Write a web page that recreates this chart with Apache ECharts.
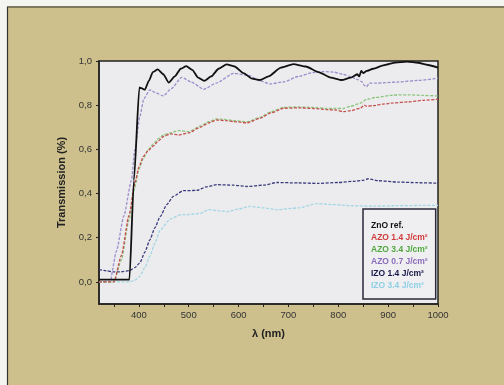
<!DOCTYPE html>
<html><head><meta charset="utf-8">
<script src="https://cdn.jsdelivr.net/npm/echarts@6/dist/echarts.min.js"></script>
<style>html,body{margin:0;padding:0;background:#fff}#c{width:504px;height:385px}</style>
</head><body><div id="c"></div><script>
// Series names (legend)
const seriesNames = ['ZnO ref.', 'AZO 1.4 J/cm²', 'AZO 3.4 J/cm²', 'AZO 0.7 J/cm²', 'IZO 1.4 J/cm²', 'IZO 3.4 J/cm²'];

// Tick labels
const xTicks = [400, 500, 600, 700, 800, 900, 1000];
const xMinorTicks = [350, 400, 450, 500, 550, 600, 650, 700, 750, 800, 850, 900, 950, 1000];
const yTicks = [0, 0.2, 0.4, 0.6, 0.8, 1.0];

// ZnO ref.
const znoX = [320, 350, 381, 390, 401, 405, 412, 420, 428, 438, 449, 460, 472, 484, 495, 507, 519, 531, 545, 560, 576, 592, 610, 627, 643, 660, 685, 710, 735, 760, 785, 807, 825, 838, 842, 846, 850, 857, 870, 890, 915, 938, 960, 980, 1000];
const znoY = [0.01, 0.01, 0.01, 0.46, 0.88, 0.877, 0.87, 0.91, 0.95, 0.962, 0.94, 0.902, 0.93, 0.965, 0.977, 0.96, 0.925, 0.91, 0.93, 0.965, 0.985, 0.975, 0.945, 0.92, 0.914, 0.93, 0.97, 0.986, 0.975, 0.95, 0.925, 0.914, 0.925, 0.94, 0.93, 0.955, 0.945, 0.955, 0.965, 0.98, 0.993, 0.997, 0.992, 0.982, 0.97];

// AZO 1.4 J/cm²
const azo14X = [320, 350, 365, 380, 392, 400, 409, 419, 429, 440, 449, 463, 480, 500, 523, 540, 556, 575, 590, 617, 643, 665, 690, 720, 750, 777, 795, 810, 825, 844, 852, 857, 870, 890, 911, 940, 970, 1000];
const azo14Y = [0.0, 0.0, 0.12, 0.3, 0.447, 0.52, 0.568, 0.595, 0.616, 0.64, 0.658, 0.67, 0.665, 0.675, 0.70, 0.72, 0.733, 0.73, 0.726, 0.72, 0.741, 0.765, 0.786, 0.788, 0.785, 0.78, 0.778, 0.771, 0.775, 0.786, 0.8, 0.795, 0.798, 0.805, 0.81, 0.815, 0.822, 0.827];

// AZO 3.4 J/cm²
const azo34X = [320, 350, 365, 380, 392, 400, 409, 419, 429, 440, 449, 463, 480, 500, 523, 540, 556, 575, 590, 617, 643, 665, 690, 720, 750, 777, 795, 810, 825, 844, 857, 875, 911, 940, 970, 1000];
const azo34Y = [0.0, 0.0, 0.1, 0.28, 0.43, 0.51, 0.56, 0.6, 0.625, 0.65, 0.665, 0.675, 0.685, 0.68, 0.705, 0.725, 0.738, 0.735, 0.73, 0.725, 0.745, 0.77, 0.79, 0.792, 0.79, 0.785, 0.785, 0.785, 0.795, 0.809, 0.827, 0.835, 0.846, 0.847, 0.844, 0.842];

// AZO 0.7 J/cm²
const azo07X = [320, 342, 355, 370, 385, 392, 402, 410, 422, 435, 449, 465, 486, 505, 530, 555, 590, 620, 643, 663, 690, 720, 750, 770, 790, 810, 823, 840, 848, 852, 857, 862, 877, 920, 960, 1000];
const azo07Y = [0.0, 0.0, 0.14, 0.3, 0.46, 0.6, 0.75, 0.83, 0.869, 0.855, 0.842, 0.875, 0.926, 0.905, 0.872, 0.9, 0.944, 0.935, 0.91, 0.896, 0.905, 0.93, 0.948, 0.952, 0.95, 0.94, 0.93, 0.915, 0.905, 0.89, 0.884, 0.9, 0.9, 0.905, 0.912, 0.922];

// IZO 1.4 J/cm²
const izo14X = [320, 335, 349, 365, 382, 392, 402, 412, 422, 432, 443, 456, 469, 489, 516, 535, 556, 590, 617, 650, 677, 720, 760, 800, 830, 850, 860, 880, 920, 960, 1000];
const izo14Y = [0.056, 0.05, 0.045, 0.046, 0.052, 0.065, 0.086, 0.135, 0.19, 0.245, 0.297, 0.35, 0.387, 0.413, 0.414, 0.43, 0.44, 0.438, 0.432, 0.438, 0.45, 0.448, 0.446, 0.45, 0.455, 0.46, 0.467, 0.458, 0.452, 0.449, 0.447];

// IZO 3.4 J/cm²
const izo34X = [320, 350, 382, 392, 402, 412, 422, 432, 443, 463, 483, 500, 523, 540, 560, 577, 600, 623, 650, 677, 720, 757, 790, 824, 870, 920, 960, 1000];
const izo34Y = [0.0, 0.0, 0.0, 0.008, 0.026, 0.065, 0.116, 0.175, 0.236, 0.285, 0.304, 0.305, 0.31, 0.327, 0.322, 0.318, 0.33, 0.342, 0.335, 0.327, 0.335, 0.354, 0.35, 0.345, 0.343, 0.345, 0.346, 0.346];

const lineColors = ['#111111', '#c4504c', '#8cc47c', '#9d8ccc', '#3a3a7c', '#a2d6e4'];
const legendColors = ['#111111', '#d23a3a', '#4fa83e', '#8a6cbc', '#16164a', '#8ecfe6'];
const xs = [znoX, azo14X, azo34X, azo07X, izo14X, izo34X];
const ys = [znoY, azo14Y, azo34Y, azo07Y, izo14Y, izo34Y];

const FONT = 'Liberation Sans, Arial, sans-serif';
const fmt = v => (Math.round(v * 10) / 10).toFixed(1).replace('.', ',');

const series = seriesNames.map((name, i) => ({
  name, type: 'line', showSymbol: false, symbol: 'none',
  smooth: 0.2, smoothMonotone: 'x',
  z: i === 0 ? 10 : 5 - i * 0.1,
  data: xs[i].map((x, k) => [x, ys[i][k]]),
  lineStyle: i === 0 ? { color: lineColors[i], width: 1.8 } : { color: lineColors[i], width: 1.3, type: [3, 1.5] },
  itemStyle: { color: lineColors[i] }
}));

const chart = echarts.init(document.getElementById('c'), null, { renderer: 'canvas' });
chart.setOption({
  animation: false,
  backgroundColor: '#cdc08d',
  textStyle: { fontFamily: FONT },
  graphic: [
    { type: 'rect', shape: { x: 0, y: 0, width: 504, height: 6 }, style: { fill: '#f4f4f0' }, silent: true },
    { type: 'rect', shape: { x: 0, y: 0, width: 7, height: 385 }, style: { fill: '#f4f4f0' }, silent: true },
    { type: 'line', shape: { x1: 7, y1: 7, x2: 504, y2: 7 }, style: { stroke: '#333', lineWidth: 1.2 }, silent: true },
    { type: 'line', shape: { x1: 7.5, y1: 7, x2: 7.5, y2: 385 }, style: { stroke: '#333', lineWidth: 1.2 }, silent: true }
  ],
  grid: { left: 99, right: 66, top: 61, bottom: 81, show: true, backgroundColor: '#ececee', borderColor: '#222', borderWidth: 1.5 },
  legend: {
    orient: 'vertical', left: 363, top: 209,
    data: seriesNames.map((n, i) => ({ name: n, textStyle: { color: legendColors[i] } })),
    itemWidth: 0, itemHeight: 0, itemGap: 2, icon: 'rect',
    backgroundColor: '#efeff1', borderColor: '#2a2a3a', borderWidth: 1.5,
    padding: [12, 8, 8, 3],
    textStyle: { fontSize: 8.5, fontWeight: 'bold', fontFamily: FONT, lineHeight: 10 },
    selectedMode: false
  },
  xAxis: {
    type: 'value', min: 320, max: 1000,
    name: 'λ (nm)', nameLocation: 'middle', nameGap: 24,
    nameTextStyle: { fontSize: 11, fontWeight: 'bold', color: '#222', fontFamily: FONT },
    axisLine: { show: true, onZero: false, lineStyle: { color: '#222', width: 1.5 } },
    axisTick: { show: true, length: 3, customValues: xMinorTicks, lineStyle: { color: '#222' } },
    axisLabel: { customValues: xTicks, fontSize: 9.5, color: '#333', margin: 6, fontFamily: FONT, formatter: v => String(v) },
    splitLine: { show: false }
  },
  yAxis: {
    type: 'value', min: -0.1, max: 1.0,
    name: 'Transmission (%)', nameLocation: 'middle', nameGap: 28, nameRotate: 90,
    nameTextStyle: { fontSize: 11, fontWeight: 'bold', color: '#222', fontFamily: FONT },
    axisLine: { show: true, onZero: false, lineStyle: { color: '#222', width: 1.5 } },
    axisTick: { show: true, length: 3, customValues: yTicks, lineStyle: { color: '#222' } },
    axisLabel: { customValues: yTicks, fontSize: 9.5, color: '#333', margin: 7, formatter: fmt, fontFamily: FONT },
    splitLine: { show: false }
  },
  series
});
</script></body></html>
